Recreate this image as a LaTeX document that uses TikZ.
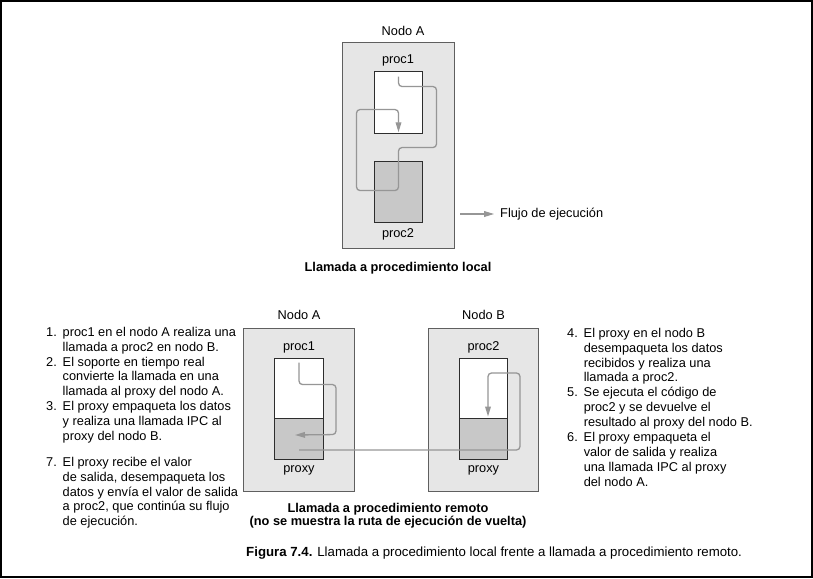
\documentclass[tikz,border=0pt]{standalone}
\usepackage{fontspec}
\setmainfont{Liberation Sans}
\usetikzlibrary{arrows.meta,positioning,calc}
\definecolor{hostgrey}{RGB}{230,230,230}
\definecolor{stubgrey}{RGB}{200,200,200}
\definecolor{flowgrey}{RGB}{150,150,150}
\definecolor{edgegrey}{RGB}{95,95,95}
\definecolor{darkline}{RGB}{45,45,45}
\tikzset{
  base/.style={font=\fontsize{10.9}{12.8}\selectfont, inner sep=0pt, text=black},
  lbl/.style={base},
  ttl/.style={base, font=\fontsize{10.9}{11.2}\selectfont\bfseries, align=center},
  itemlist/.style={base, anchor=base west},
  hostbox/.style={rectangle, draw=edgegrey, fill=hostgrey, line width=0.8pt},
  membox/.style={rectangle, draw=darkline, fill=white, line width=0.8pt, minimum width=1.46cm},
  stubbox/.style={membox, fill=stubgrey},
  flow/.style={draw=flowgrey, line width=1.1pt, rounded corners=3pt, -{Triangle[length=3mm,width=1.7mm]}},
}

\begin{document}
\begin{tikzpicture}[x=0.03cm,y=-0.03cm]
  \useasboundingbox (0,0) rectangle (813,578);
  \draw[line width=0.06cm] (1,1) rectangle (812,577);

  % local call
  \node[hostbox, minimum width=3.36cm, minimum height=6.18cm] (hostL) at (398,145) {};
  \node[lbl] (hostLt) at (403,31) {Nodo A};
  \node[membox, minimum height=1.86cm] (p1) at (398.5,102) {};
  \node[stubbox, minimum height=1.83cm] (p2) at (398.5,191.5) {};
  \node[lbl] (p1t) at (398,60) {proc1};
  \node[lbl] (p2t) at (398,234) {proc2};
  \coordinate (l0) at ([yshift=-0.18cm]p1.north);
  \draw[flow] (l0) -- ++(0,10) -- ++(38,0) -- ++(0,61) -- ++(-38,0) -- ++(0,43)
    -- ++(-42,0) -- ++(0,-81) -- ++(42,0) -- ([yshift=1pt]p1.south);

  % legend
  \node[lbl, anchor=west] (legend) at (500,214) {Flujo de ejecución};
  \coordinate (legtail) at (460,214);
  \draw[flow] (legtail) -- ([xshift=-5pt]legend.west);

  \node[ttl] (capL) at (398,268) {Llamada a procedimiento local};

  % remote call
  \foreach \n/\x/\p in {A/299/proc1, B/483.5/proc2}{
    \node[hostbox, minimum width=3.32cm, minimum height=4.89cm] (host\n) at (\x,409.5) {};
    \node[lbl] (hostt\n) at (\x,315) {Nodo \n};
    \node[lbl] (codet\n) at (\x,347) {\p};
    \node[membox, minimum height=1.80cm] (code\n) at (\x,388) {};
    \node[stubbox, minimum height=1.23cm] (stub\n) at (\x,438.5) {};
    \node[lbl] (stubt\n) at (\x,470) {proxy};
  }
  \coordinate (r0) at ([yshift=-0.15cm]codeA.north);
  \draw[flow] (r0) -- ++(0,22) -- ++(37,0) -- ++(0,50) -- ($(stubA.center)+(-4,-3.5)$);
  \coordinate (r1) at ($(stubA.center)+(0,11.5)$);
  \draw[flow] (r1) -- ++(221,0) -- ++(0,-77) -- ++(-32,0) -- ($(stubB.north)+(4.5,-1)$);

  % steps
  \node[itemlist] (stepsA) at (46,336) {\begin{tabular}[t]{@{}r@{\hspace{5pt}}l@{}}
    1. & proc1 en el nodo A realiza una\\
       & llamada a proc2 en nodo B.\\
    2. & El soporte en tiempo real\\
       & convierte la llamada en una\\
       & llamada al proxy del nodo A.\\
    3. & El proxy empaqueta los datos\\
       & y realiza una llamada IPC al\\
       & proxy del nodo B.
  \end{tabular}};
  \node[itemlist] (stepsA2) at (46,466) {\begin{tabular}[t]{@{}r@{\hspace{5pt}}l@{}}
    7. & El proxy recibe el valor\\
       & de salida, desempaqueta los\\
       & datos y envía el valor de salida\\
       & a proc2, que continúa su flujo\\
       & de ejecución.
  \end{tabular}};
  \node[itemlist] (stepsB) at (567,337) {\begin{tabular}[t]{@{}r@{\hspace{5pt}}l@{}}
    4. & El proxy en el nodo B\\
       & desempaqueta los datos\\
       & recibidos y realiza una\\
       & llamada a proc2.\\
    5. & Se ejecuta el código de\\
       & proc2 y se devuelve el\\
       & resultado al proxy del nodo B.\\
    6. & El proxy empaqueta el\\
       & valor de salida y realiza\\
       & una llamada IPC al proxy\\
       & del nodo A.
  \end{tabular}};

  \node[ttl] (capR) at (388,516) {Llamada a procedimiento remoto\\(no se muestra la ruta de ejecución de vuelta)};
  \node[base, anchor=west, font=\fontsize{11.3}{13}\selectfont] (fig) at (246,553) {\textbf{Figura 7.4.} Llamada a procedimiento local frente a llamada a procedimiento remoto.};
\end{tikzpicture}
\end{document}
